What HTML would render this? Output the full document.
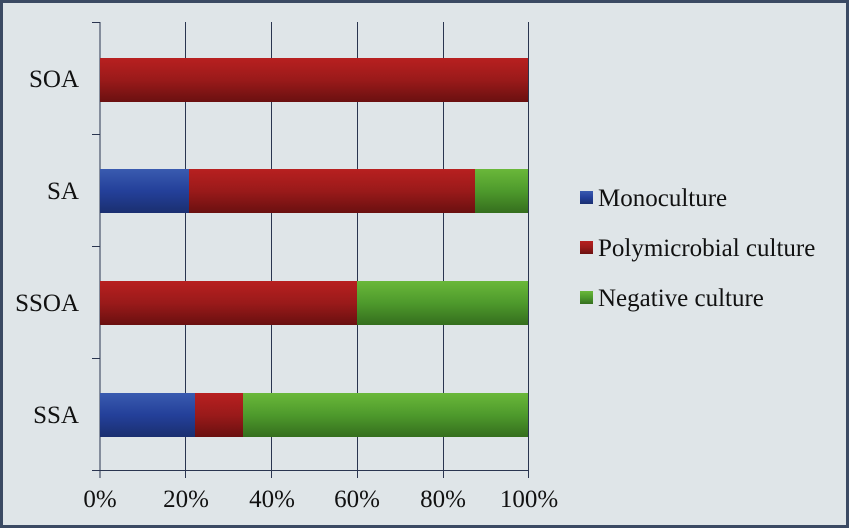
<!DOCTYPE html>
<html><head><style>body{margin:0}svg{display:block}text{font-family:"Liberation Serif","Times New Roman",serif}</style></head><body>
<svg width="849" height="528" xmlns="http://www.w3.org/2000/svg">
<defs>
<linearGradient id="b" x1="0" y1="0" x2="0" y2="1"><stop offset="0" stop-color="#3a5bb0"/><stop offset="0.5" stop-color="#24409a"/><stop offset="1" stop-color="#1a2f70"/></linearGradient>
<linearGradient id="r" x1="0" y1="0" x2="0" y2="1"><stop offset="0" stop-color="#b82020"/><stop offset="0.5" stop-color="#9a1a1a"/><stop offset="1" stop-color="#6a1010"/></linearGradient>
<linearGradient id="g" x1="0" y1="0" x2="0" y2="1"><stop offset="0" stop-color="#6ab83a"/><stop offset="0.5" stop-color="#4e9a2c"/><stop offset="1" stop-color="#356e1e"/></linearGradient>
</defs>
<rect x="1.5" y="1.5" width="846" height="525" fill="#dfe5e8" stroke="#3b4a63" stroke-width="3"/>
<g stroke="#2a3550" stroke-width="1">
<line x1="100" y1="22" x2="100" y2="478"/>
<line x1="185.5" y1="22" x2="185.5" y2="478"/>
<line x1="271.5" y1="22" x2="271.5" y2="478"/>
<line x1="357.5" y1="22" x2="357.5" y2="478"/>
<line x1="443.5" y1="22" x2="443.5" y2="478"/>
<line x1="528.5" y1="22" x2="528.5" y2="478"/>
<line x1="92" y1="470.5" x2="528" y2="470.5"/>
<line x1="92" y1="22.5" x2="100" y2="22.5"/>
<line x1="92" y1="134.5" x2="100" y2="134.5"/>
<line x1="92" y1="246.5" x2="100" y2="246.5"/>
<line x1="92" y1="358.5" x2="100" y2="358.5"/>
</g>
<rect x="100" y="58" width="428" height="44" fill="url(#r)"/>
<rect x="100" y="169" width="89" height="44" fill="url(#b)"/>
<rect x="189" y="169" width="286" height="44" fill="url(#r)"/>
<rect x="475" y="169" width="53" height="44" fill="url(#g)"/>
<rect x="100" y="281" width="257" height="44" fill="url(#r)"/>
<rect x="357" y="281" width="171" height="44" fill="url(#g)"/>
<rect x="100" y="393" width="95" height="44" fill="url(#b)"/>
<rect x="195" y="393" width="48" height="44" fill="url(#r)"/>
<rect x="243" y="393" width="285" height="44" fill="url(#g)"/>
<g font-size="25" fill="#111" text-anchor="end">
<text x="79" y="87">SOA</text>
<text x="79" y="199">SA</text>
<text x="79" y="311">SSOA</text>
<text x="79" y="423">SSA</text>
</g>
<g font-size="25" fill="#111" text-anchor="middle">
<text x="100" y="507">0%</text>
<text x="186" y="507">20%</text>
<text x="272" y="507">40%</text>
<text x="357" y="507">60%</text>
<text x="443" y="507">80%</text>
<text x="529" y="507">100%</text>
</g>
<rect x="580" y="191" width="13" height="13" fill="url(#b)"/>
<rect x="580" y="241" width="13" height="13" fill="url(#r)"/>
<rect x="580" y="291" width="13" height="13" fill="url(#g)"/>
<g font-size="25" fill="#111">
<text x="598" y="206">Monoculture</text>
<text x="598" y="256">Polymicrobial culture</text>
<text x="598" y="306">Negative culture</text>
</g>
</svg>
</body></html>
